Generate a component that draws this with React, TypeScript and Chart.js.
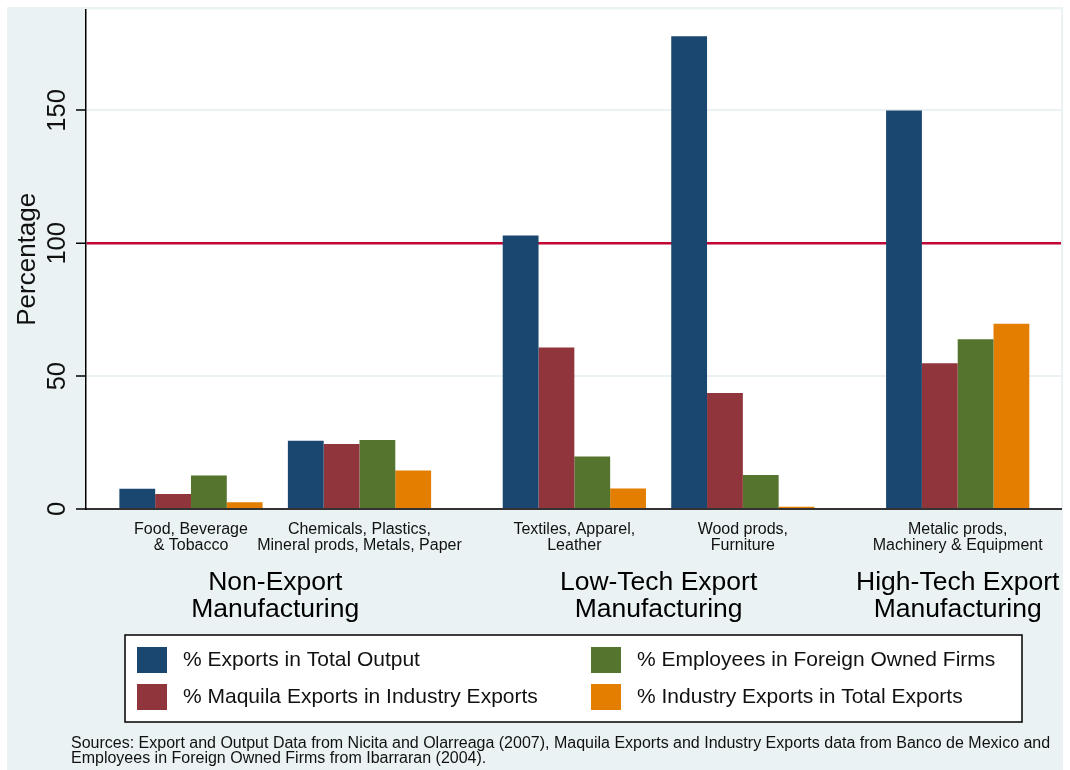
import { useEffect, useRef } from "react"
import { Chart, registerables } from "chart.js"

Chart.register(...registerables)

const FONT = '"Liberation Sans", Arial, sans-serif'

// industries (two-line tick labels) and the export group each belongs to
const categories = [
  ["Food, Beverage", "& Tobacco"],
  ["Chemicals, Plastics,", "Mineral prods, Metals, Paper"],
  ["Textiles, Apparel,", "Leather"],
  ["Wood prods,", "Furniture"],
  ["Metalic prods,", "Machinery & Equipment"]
]
const categoryGroup = [0, 0, 1, 1, 2]
const groupLabels = [
  ["Non-Export", "Manufacturing"],
  ["Low-Tech Export", "Manufacturing"],
  ["High-Tech Export", "Manufacturing"]
]

const seriesLabels = [
  "% Exports in Total Output",
  "% Maquila Exports in Industry Exports",
  "% Employees in Foreign Owned Firms",
  "% Industry Exports in Total Exports"
]
const seriesColors = ["#1A476F", "#90353B", "#55752F", "#E37E00"]

const exportsInOutput = [7.6, 25.7, 102.9, 177.9, 150]
const maquilaInExports = [5.6, 24.5, 60.8, 43.7, 54.9]
const employeesForeign = [12.6, 26, 19.8, 12.8, 63.9]
const industryInTotal = [2.5, 14.5, 7.7, 0.8, 69.7]

const yTicks = [0, 50, 100, 150]
const referenceLine = 100

const noteLines = [
  "Sources: Export and Output Data from Nicita and Olarreaga (2007), Maquila Exports and Industry Exports data from Banco de Mexico and",
  "Employees in Foreign Owned Firms from Ibarraran (2004)."
]

// extra space between export groups, in category units
const GROUP_GAP = 0.275
const xPos = categories.map((_, i) => i + categoryGroup[i] * GROUP_GAP)
const groupCenters = groupLabels.map((_, g) => {
  const members = xPos.filter((_, i) => categoryGroup[i] === g)
  return members.reduce((a, b) => a + b, 0) / members.length
})
const X_MIN = -0.623
const X_MAX = 5.163
const Y_MAX = 188

const plotBackground = {
  id: "plotBackground",
  beforeDraw(chart: any) {
    const { ctx, chartArea } = chart
    ctx.save()
    ctx.fillStyle = "#ffffff"
    ctx.fillRect(chartArea.left, chartArea.top, chartArea.right - chartArea.left, chartArea.bottom - chartArea.top)
    ctx.restore()
  }
}

// boxed two-column legend plus the sources note underneath
const legendAndNote = {
  id: "legendAndNote",
  afterDraw(chart: any) {
    const { ctx, chartArea } = chart
    const x2 = chart.scales.x2
    const w = 897
    const h = 87
    const left = (chartArea.left + chartArea.right) / 2 - w / 2
    const top = x2.bottom + 11
    ctx.save()
    ctx.fillStyle = "#ffffff"
    ctx.fillRect(left, top, w, h)
    ctx.strokeStyle = "#000000"
    ctx.lineWidth = 1.5
    ctx.strokeRect(left, top, w, h)
    ctx.font = `21px ${FONT}`
    ctx.textBaseline = "middle"
    ctx.textAlign = "left"
    chart.data.datasets.forEach((ds: any, i: number) => {
      const col = Math.floor(i / 2)
      const row = i % 2
      const bx = left + 12 + col * 454
      const by = top + 12 + row * 37
      ctx.fillStyle = ds.backgroundColor
      ctx.fillRect(bx, by, 30, 26)
      ctx.fillStyle = "#111111"
      ctx.fillText(ds.label, bx + 46, by + 13.5)
    })
    ctx.font = `16px ${FONT}`
    noteLines.forEach((line, i) => ctx.fillText(line, 64, top + h + 22 + i * 14.5))
    ctx.restore()
  }
}

function ExportsChart() {
  const chartRef = useRef<HTMLCanvasElement>(null)
  const chartInstance = useRef<Chart | null>(null)

  useEffect(() => {
    if (chartRef.current) {
      if (chartInstance.current) chartInstance.current.destroy()
      const series = [exportsInOutput, maquilaInExports, employeesForeign, industryInTotal]
      chartInstance.current = new Chart(chartRef.current, {
        type: "bar",
        data: {
          datasets: series.map((values, s) => ({
            label: seriesLabels[s],
            data: values.map((v, i) => ({ x: xPos[i], y: v })),
            backgroundColor: seriesColors[s],
            borderWidth: 0,
            xAxisID: "x",
            yAxisID: "y",
            categoryPercentage: 0.85,
            barPercentage: 1
          }))
        },
        options: {
          animation: false,
          responsive: true,
          maintainAspectRatio: false,
          layout: { padding: { top: 2.5, right: 2, bottom: 146, left: 0 } },
          plugins: {
            legend: { display: false },
            tooltip: { enabled: false }
          },
          scales: {
            x: {
              type: "linear",
              min: X_MIN,
              max: X_MAX,
              offset: false,
              grid: { display: false, drawTicks: false },
              border: { display: true, color: "#333333", width: 2 },
              afterBuildTicks: (s: any) => { s.ticks = xPos.map((v) => ({ value: v })) },
              afterFit: (s: any) => { s.height = 45; s.paddingLeft = 0; s.paddingRight = 0 },
              ticks: {
                padding: 13,
                autoSkip: false,
                minRotation: 0,
                maxRotation: 0,
                color: "#111111",
                font: { family: FONT, size: 16, lineHeight: 1 },
                callback: (_v: any, i: number) => categories[i]
              }
            },
            x2: {
              type: "linear",
              position: "bottom",
              min: X_MIN,
              max: X_MAX,
              offset: false,
              grid: { display: false, drawTicks: false },
              border: { display: false },
              afterBuildTicks: (s: any) => { s.ticks = groupCenters.map((v) => ({ value: v })) },
              afterFit: (s: any) => { s.height = 70; s.paddingLeft = 0; s.paddingRight = 0 },
              ticks: {
                padding: 15,
                autoSkip: false,
                minRotation: 0,
                maxRotation: 0,
                color: "#000000",
                font: { family: FONT, size: 26.5, lineHeight: 1.03 },
                callback: (_v: any, i: number) => groupLabels[i]
              }
            },
            y: {
              min: 0,
              max: Y_MAX,
              afterBuildTicks: (s: any) => { s.ticks = yTicks.map((v) => ({ value: v })) },
              afterFit: (s: any) => { s.width = 79; s.paddingTop = 0; s.paddingBottom = 0 },
              grid: {
                color: (c: any) => (c.tick && c.tick.value === referenceLine ? "#C10534" : "#EAF2F3"),
                lineWidth: (c: any) => (c.tick && c.tick.value === referenceLine ? 2.5 : 2),
                tickColor: "#000000",
                tickLength: 10,
                tickWidth: 1.5
              },
              border: { color: "#000000", width: 1.5 },
              ticks: {
                minRotation: 90,
                maxRotation: 90,
                crossAlign: "center",
                padding: -3,
                color: "#111111",
                font: { family: FONT, size: 25.5 }
              },
              title: {
                display: true,
                text: "Percentage",
                color: "#111111",
                font: { family: FONT, size: 26 },
                padding: { top: 5, bottom: 0 }
              }
            }
          }
        } as any,
        plugins: [plotBackground, legendAndNote]
      })
    }
    return () => { if (chartInstance.current) chartInstance.current.destroy() }
  }, [])

  return (
    <div style={{ position: "absolute", left: 7, top: 7, width: 1056, height: 763, background: "#EAF2F3" }}>
      <canvas ref={chartRef} />
    </div>
  )
}

export default function App() {
  return <ExportsChart />
}
